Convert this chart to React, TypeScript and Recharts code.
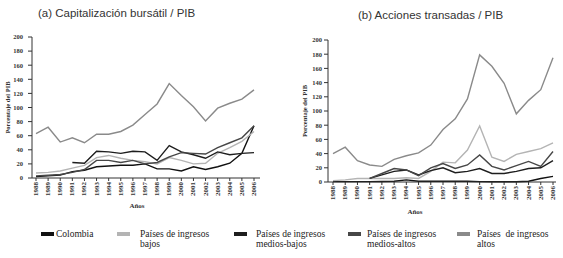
import React from 'react';
import { LineChart, Line, XAxis, YAxis } from 'recharts';

const years = ['1988', '1989', '1990', '1991', '1992', '1993', '1994', '1995', '1996', '1997', '1998', '1999', '2000', '2001', '2002', '2003', '2004', '2005', '2006'];
const yTicks = [0, 20, 40, 60, 80, 100, 120, 140, 160, 180, 200];

// (a) market capitalisation / GDP
const capColombia = [2, 3, 4, 9, 11, 16, 17, 18, 18, 20, 13, 13, 10, 16, 12, 16, 21, 35, 74];
const capBajos = [7, 8, 10, 14, 18, 29, 32, 28, 25, 23, 20, 29, 25, 20, 21, 35, 43, 52, 66];
const capMediosBajos = [null, null, null, 22, 21, 38, 37, 35, 38, 37, 25, 46, 37, 33, 28, 37, 33, 35, 36];
const capMediosAltos = [3, 4, 5, 8, 12, 25, 25, 22, 25, 20, 22, 30, 36, 35, 34, 43, 50, 57, 74];
const capAltos = [63, 72, 51, 57, 50, 62, 62, 66, 75, 90, 105, 134, 117, 101, 81, 99, 106, 112, 125];

// (b) value traded / GDP
const trColombia = [0.5, 0.5, 0.5, 0.5, 0.8, 1, 3, 1, 1, 1, 1, 1, 0.5, 0.3, 0.3, 0.3, 1, 5, 8];
const trBajos = [2, 3, 5, 5, 5, 5, 6, 5, 15, 28, 27, 45, 79, 35, 29, 39, 43, 47, 55];
const trMediosBajos = [null, null, null, 5, 10, 15, 17, 10, 16, 20, 13, 15, 19, 12, 12, 15, 19, 20, 30];
const trMediosAltos = [null, null, null, 5, 12, 19, 17, 9, 20, 26, 19, 24, 38, 22, 17, 23, 29, 22, 43];
const trAltos = [40, 49, 30, 24, 22, 32, 37, 41, 52, 74, 89, 117, 179, 163, 139, 96, 115, 130, 175];

const series = [
  { key: 'colombia', name: 'Colombia', color: '#111111' },
  { key: 'bajos', name: 'Países de ingresos\nbajos', color: '#b4b4b4' },
  { key: 'mediosBajos', name: 'Países de ingresos\nmedios-bajos', color: '#1e1e1e' },
  { key: 'mediosAltos', name: 'Países de ingresos\nmedios-altos', color: '#474747' },
  { key: 'altos', name: 'Países  de ingresos\naltos', color: '#8a8a8a' },
];

const capData = years.map((year, i) => ({
  year,
  colombia: capColombia[i],
  bajos: capBajos[i],
  mediosBajos: capMediosBajos[i],
  mediosAltos: capMediosAltos[i],
  altos: capAltos[i],
}));

const trData = years.map((year, i) => ({
  year,
  colombia: trColombia[i],
  bajos: trBajos[i],
  mediosBajos: trMediosBajos[i],
  mediosAltos: trMediosAltos[i],
  altos: trAltos[i],
}));

const serif = '"Liberation Serif", "DejaVu Serif", serif';
const sans = '"Liberation Sans", Arial, sans-serif';

const YearTick = (props: any) => {
  const { x, y, payload } = props;
  return (
    <text
      x={x}
      y={y}
      transform={`rotate(-90 ${x} ${y})`}
      textAnchor="end"
      dominantBaseline="central"
      fontSize={7}
      fontFamily={serif}
      fontWeight="bold"
      fill="#333"
    >
      {payload.value}
    </text>
  );
};

// legend left positions
const legendPos = [
  { swatch: 41, text: 56 },
  { swatch: 117, text: 140 },
  { swatch: 234, text: 256 },
  { swatch: 348, text: 367 },
  { swatch: 457, text: 477 },
];

interface PanelProps {
  data: any[];
  width: number;
  height: number;
  axisWidth: number;
  padding: { left: number; right: number };
  yLabelDx: number;
  xLabelDx: number;
  xLabelOffset: number;
  tickMargin: number;
}

const Panel: React.FC<PanelProps> = ({ data, width, height, axisWidth, padding, yLabelDx, xLabelDx, xLabelOffset, tickMargin }) => (
  <LineChart width={width} height={height} data={data} margin={{ top: 37, right: 5, left: 0, bottom: 0 }}>
    <XAxis
      dataKey="year"
      interval={0}
      tick={<YearTick />}
      tickSize={3}
      tickMargin={1}
      height={37}
      padding={padding}
      stroke="#333"
      label={{ value: 'Años', position: 'insideBottom', offset: xLabelOffset, dx: xLabelDx, style: { fontSize: 7, fontFamily: serif, fontWeight: 'bold', fill: '#333' } }}
    />
    <YAxis
      domain={[0, 200]}
      ticks={yTicks}
      width={axisWidth}
      tickSize={4}
      tickMargin={tickMargin}
      stroke="#333"
      tick={{ fontSize: 6.5, fontFamily: serif, fontWeight: 'bold', fill: '#333' }}
      label={{ value: 'Porcentaje del PIB', angle: -90, position: 'center', dx: yLabelDx, style: { fontSize: 6.5, fontFamily: serif, fontWeight: 'bold', fill: '#333', textAnchor: 'middle' } }}
    />
    {/* right frame line */}
    <YAxis yAxisId="frame" orientation="right" width={0} tick={false} tickLine={false} stroke="#777" domain={[0, 200]} />
    {series.map((s) => (
      <Line
        key={s.key}
        type="linear"
        dataKey={s.key}
        stroke={s.color}
        strokeWidth={1.4}
        dot={false}
        isAnimationActive={false}
      />
    ))}
  </LineChart>
);

export default function App() {
  return (
    <div style={{ position: 'absolute', left: 0, top: 0, width: 563, height: 258, background: '#fff', overflow: 'hidden' }}>
      <div style={{ position: 'absolute', left: 38, top: 7, fontFamily: sans, fontSize: 11.5, color: '#333', whiteSpace: 'nowrap' }}>
        (a) Capitalización bursátil / PIB
      </div>
      <div style={{ position: 'absolute', left: 358, top: 9, fontFamily: sans, fontSize: 11.5, color: '#333', whiteSpace: 'nowrap' }}>
        (b) Acciones transadas / PIB
      </div>

      <div style={{ position: 'absolute', left: 0, top: 0 }}>
        <Panel data={capData} width={265} height={215} axisWidth={32} padding={{ left: 4, right: 6 }} yLabelDx={-8} xLabelDx={-9} xLabelOffset={7} tickMargin={5} />
      </div>
      <div style={{ position: 'absolute', left: 290, top: 3 }}>
        <Panel data={trData} width={271} height={216} axisWidth={38} padding={{ left: 5, right: 3 }} yLabelDx={-4} xLabelDx={-27} xLabelOffset={5} tickMargin={2} />
      </div>

      {series.map((s, i) => {
        const [line1, line2] = s.name.split('\n');
        return (
          <div key={s.key}>
            <div style={{ position: 'absolute', left: legendPos[i].swatch, top: 232, width: 13, height: 4, background: s.color }} />
            <div style={{ position: 'absolute', left: legendPos[i].text, top: 229, fontFamily: serif, fontSize: 9.5, lineHeight: '10px', color: '#222', whiteSpace: 'pre' }}>
              {line1}
              {line2 ? <br /> : null}
              {line2}
            </div>
          </div>
        );
      })}
    </div>
  );
}
